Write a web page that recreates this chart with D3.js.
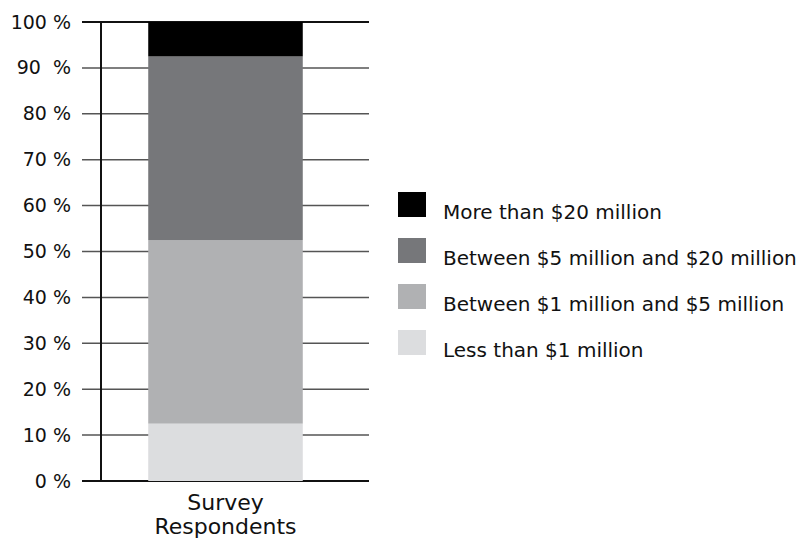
<!DOCTYPE html>
<html>
<head>
<meta charset="utf-8">
<script src="https://cdn.jsdelivr.net/npm/d3@7"></script>
<style>
  body { margin: 0; background: #fff; }
  text { font-family: "DejaVu Sans", sans-serif; fill: #111; white-space: pre; }
</style>
</head>
<body>
<div id="chart"></div>
<script>
// data
var categories = ["Survey Respondents"];
var seriesNames = ["Less than $1 million", "Between $1 million and $5 million", "Between $5 million and $20 million", "More than $20 million"];
var seriesValues = [12.5, 40, 40, 7.5];
var seriesColors = ["#dcdddf", "#b0b1b3", "#76777a", "#000000"];
var tickValues = [0, 10, 20, 30, 40, 50, 60, 70, 80, 90, 100];
var tickLabels = ["0 %", "10 %", "20 %", "30 %", "40 %", "50 %", "60 %", "70 %", "80 %", "90  %", "100 %"];

var width = 801, height = 540;

var svg = d3.select("#chart")
  .append("svg")
    .attr("width", width)
    .attr("height", height);

var y = d3.scaleLinear().domain([0, 100]).range([481, 22]);
var x = d3.scaleBand().domain(categories).range([82, 369]).padding(0.3);

// grid lines behind the bar
svg.selectAll("line.grid")
  .data(tickValues)
  .enter()
  .append("line")
  .attr("class", "grid")
  .attr("x1", 82)
  .attr("x2", 369)
  .attr("y1", function(d) { return y(d); })
  .attr("y2", function(d) { return y(d); })
  .attr("stroke", function(d) { return (d == 0 || d == 100) ? "#111" : "#555"; })
  .attr("stroke-width", function(d) { return (d == 0 || d == 100) ? 2 : 1.5; });

// stacked segments
var stacked = [];
var base = 0;
seriesValues.forEach(function(v, i) {
  stacked.push({ y0: base, y1: base + v, color: seriesColors[i] });
  base += v;
});

svg.selectAll("rect.seg")
  .data(stacked)
  .enter()
  .append("rect")
  .attr("class", "seg")
  .attr("x", x(categories[0]))
  .attr("width", x.bandwidth())
  .attr("y", function(d) { return y(d.y1); })
  .attr("height", function(d) { return y(d.y0) - y(d.y1); })
  .attr("fill", function(d) { return d.color; });

// vertical axis line
svg.append("line")
  .attr("x1", 101).attr("x2", 101)
  .attr("y1", y(100)).attr("y2", y(0))
  .attr("stroke", "#111")
  .attr("stroke-width", 2);

// y tick labels
var yAxis = d3.axisLeft(y)
  .tickValues(tickValues)
  .tickSize(0)
  .tickPadding(11)
  .tickFormat(function(d, i) { return tickLabels[i]; });

var gy = svg.append("g")
  .attr("transform", "translate(82,0)")
  .call(yAxis);
gy.select(".domain").remove();
gy.selectAll("text")
  .style("font-size", "19px")
  .style("font-family", "DejaVu Sans, sans-serif")
  .attr("fill", "#111");

// x category label
var cx = x(categories[0]) + x.bandwidth() / 2;
var words = ["Survey", "Respondents"];
svg.selectAll("text.xlab")
  .data(words)
  .enter()
  .append("text")
  .attr("class", "xlab")
  .attr("x", cx)
  .attr("y", function(d, i) { return 510 + i * 24; })
  .attr("text-anchor", "middle")
  .style("font-size", "22px")
  .text(function(d) { return d; });

// legend, top entry first
var legendItems = seriesNames.map(function(n, i) { return { name: n, color: seriesColors[i] }; }).reverse();
var legend = svg.selectAll("g.legend")
  .data(legendItems)
  .enter()
  .append("g")
  .attr("class", "legend")
  .attr("transform", function(d, i) { return "translate(398," + (192 + i * 46) + ")"; });

legend.append("rect")
  .attr("width", 28)
  .attr("height", 25)
  .attr("fill", function(d) { return d.color; });

legend.append("text")
  .attr("x", 45)
  .attr("y", 27)
  .style("font-size", "20px")
  .text(function(d) { return d.name; });
</script>
</body>
</html>
